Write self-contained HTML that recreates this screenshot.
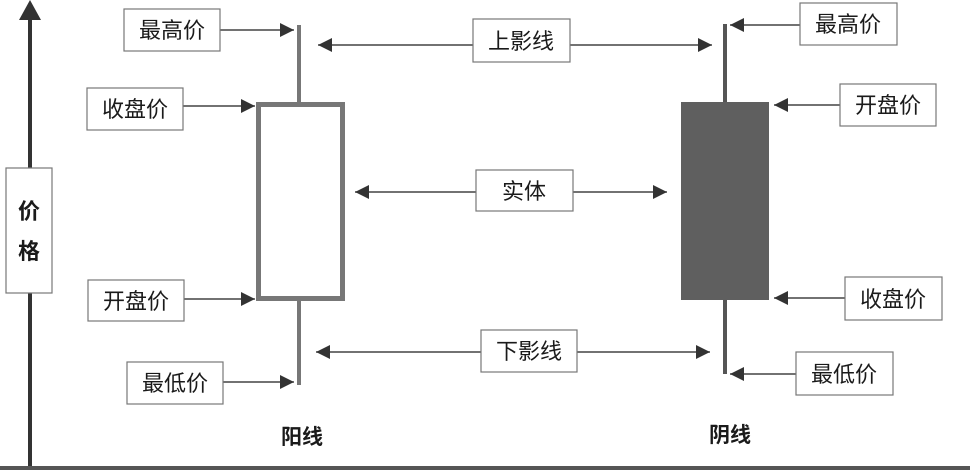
<!DOCTYPE html>
<html><head><meta charset="utf-8"><style>
html,body{margin:0;padding:0;background:#fff;}
svg{display:block;}
text{font-family:"Liberation Sans","Noto Sans CJK SC",sans-serif;fill:#1a1a1a;}
</style></head><body>
<svg width="970" height="470" viewBox="0 0 970 470" xmlns="http://www.w3.org/2000/svg">
<defs>
<marker id="a" viewBox="0 0 10 10" refX="10" refY="5" markerWidth="14" markerHeight="14" markerUnits="userSpaceOnUse" orient="auto-start-reverse">
<path d="M0,0 L10,5 L0,10 Z" fill="#333"/></marker>
</defs>
<line x1="30" y1="18" x2="30" y2="470" stroke="#333" stroke-width="4"/>
<path d="M19,20 L30,0 L41,20 Z" fill="#333"/>
<rect x="0" y="466" width="970" height="4" fill="#555"/>
<rect x="6" y="168" width="46" height="125" fill="#fff" stroke="#777" stroke-width="1.2"/>
<text x="29" y="219" font-size="22" font-weight="bold" text-anchor="middle">价</text>
<text x="29" y="259" font-size="22" font-weight="bold" text-anchor="middle">格</text>

<line x1="299" y1="25" x2="299" y2="385" stroke="#777" stroke-width="4"/>
<rect x="258.5" y="104.5" width="84" height="194" fill="#fff" stroke="#777" stroke-width="5"/>

<line x1="725" y1="24" x2="725" y2="374" stroke="#555" stroke-width="4"/>
<rect x="681" y="102" width="88" height="198" fill="#5f5f5f"/>

<g stroke="#444" stroke-width="1.5" fill="none">
<line x1="220" y1="30" x2="294" y2="30" marker-end="url(#a)"/>
<line x1="183" y1="106" x2="255" y2="106" marker-end="url(#a)"/>
<line x1="184" y1="299" x2="255" y2="299" marker-end="url(#a)"/>
<line x1="223" y1="382" x2="294" y2="382" marker-end="url(#a)"/>
<line x1="318" y1="45" x2="473" y2="45" marker-start="url(#a)"/>
<line x1="570" y1="45" x2="712" y2="45" marker-end="url(#a)"/>
<line x1="355" y1="192" x2="476" y2="192" marker-start="url(#a)"/>
<line x1="573" y1="192" x2="667" y2="192" marker-end="url(#a)"/>
<line x1="316" y1="352" x2="481" y2="352" marker-start="url(#a)"/>
<line x1="577" y1="352" x2="710" y2="352" marker-end="url(#a)"/>
<line x1="730" y1="25" x2="800" y2="25" marker-start="url(#a)"/>
<line x1="774" y1="105" x2="840" y2="105" marker-start="url(#a)"/>
<line x1="774" y1="298" x2="845" y2="298" marker-start="url(#a)"/>
<line x1="730" y1="374" x2="796" y2="374" marker-start="url(#a)"/>
</g>

<g fill="#fff" stroke="#777" stroke-width="1.2">
<rect x="124" y="9" width="96" height="42"/>
<rect x="87" y="88" width="96" height="42"/>
<rect x="88" y="280" width="96" height="41"/>
<rect x="127" y="362" width="96" height="42"/>
<rect x="473" y="19" width="97" height="43"/>
<rect x="476" y="170" width="97" height="41"/>
<rect x="481" y="330" width="96" height="42"/>
<rect x="800" y="3" width="97" height="42"/>
<rect x="840" y="84" width="96" height="42"/>
<rect x="845" y="277" width="97" height="43"/>
<rect x="796" y="352" width="97" height="43"/>
</g>
<g font-size="22" text-anchor="middle">
<text x="172" y="38">最高价</text>
<text x="135" y="117">收盘价</text>
<text x="136" y="309">开盘价</text>
<text x="175" y="391">最低价</text>
<text x="521" y="49">上影线</text>
<text x="524" y="199">实体</text>
<text x="529" y="359">下影线</text>
<text x="848" y="32">最高价</text>
<text x="888" y="113">开盘价</text>
<text x="893" y="307">收盘价</text>
<text x="844" y="382">最低价</text>
</g>
<text x="302" y="444" font-size="21" font-weight="bold" text-anchor="middle">阳线</text>
<text x="730" y="442" font-size="21" font-weight="bold" text-anchor="middle">阴线</text>
</svg>
</body></html>
